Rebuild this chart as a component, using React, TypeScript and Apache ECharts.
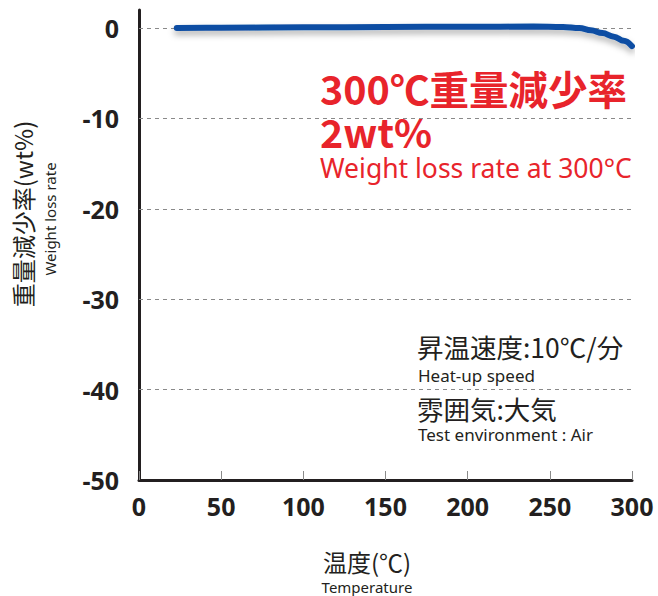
import { useEffect, useRef } from "react";
import * as echarts from "echarts";

const temps = [23, 50, 100, 150, 200, 240, 258, 268, 275, 282, 289, 295, 300];
const weightLoss = [0, 0.03, 0.08, 0.12, 0.15, 0.17, 0.12, 0, -0.25, -0.55, -0.95, -1.4, -2.0];
const yGridValues = [0, -10, -20, -30, -40];
const xMin = 0;
const xMax = 300;
const xInterval = 50;
const yMin = -50;
const yMax = 2;
const yInterval = 10;

const DARK = "#231f20";
const RED = "#e8242b";
const LATIN = "'Noto Sans', 'Open Sans', sans-serif";
const CJK = "'Noto Sans CJK JP', 'Noto Sans', sans-serif";

export default function App() {
  const ref = useRef<HTMLDivElement>(null);
  useEffect(() => {
    if (!ref.current) return;
    const chart = echarts.init(ref.current, null, { renderer: "svg" });
    const data = temps.map((t, i) => [t, weightLoss[i]]);
    chart.setOption({
      animation: false,
      backgroundColor: "#ffffff",
      grid: { left: 139, right: 26, top: 10, bottom: 116, containLabel: false },
      xAxis: {
        type: "value",
        min: xMin,
        max: xMax,
        interval: xInterval,
        axisLine: { show: true, onZero: false, lineStyle: { color: DARK, width: 3 } },
        axisTick: { show: true, inside: true, length: 9, lineStyle: { color: "#8a8a8a", width: 1 } },
        axisLabel: { color: DARK, fontSize: 25, fontWeight: "bold", fontFamily: LATIN, margin: 13 },
        splitLine: { show: false },
      },
      yAxis: {
        type: "value",
        min: yMin,
        max: yMax,
        interval: yInterval,
        axisLine: { show: true, onZero: false, lineStyle: { color: DARK, width: 3 } },
        axisTick: { show: false },
        axisLabel: {
          color: DARK,
          fontSize: 25,
          fontWeight: "bold",
          fontFamily: LATIN,
          margin: 20,
          formatter: (v: number) => (v % 10 === 0 ? String(v) : ""),
        },
        splitLine: { show: false },
      },
      series: [
        {
          type: "line",
          data,
          smooth: 0.4,
          smoothMonotone: "x",
          showSymbol: false,
          lineStyle: {
            color: "#0c4ea3",
            width: 6,
            cap: "round",
            shadowColor: "rgba(0,0,0,0.3)",
            shadowBlur: 6,
            shadowOffsetY: 4,
          },
          z: 5,
          markLine: {
            silent: true,
            symbol: "none",
            label: { show: false },
            lineStyle: { color: "#8a8a8a", type: [4, 4], width: 1.2 },
            data: yGridValues.map((v) => ({ yAxis: v })),
            z: 1,
          },
        },
      ],
      graphic: [
        {
          type: "text",
          x: 22,
          y: 214,
          rotation: Math.PI / 2,
          style: { text: "重量減少率(wt%)", fill: DARK, font: `24px ${CJK}`, align: "center", verticalAlign: "middle" },
        },
        {
          type: "text",
          x: 50,
          y: 219,
          rotation: Math.PI / 2,
          style: { text: "Weight loss rate", fill: DARK, font: `15px ${LATIN}`, align: "center", verticalAlign: "middle" },
        },
        {
          type: "text",
          x: 367,
          y: 561,
          style: { text: "温度(℃)", fill: DARK, font: `24px ${CJK}`, align: "center", verticalAlign: "middle" },
        },
        {
          type: "text",
          x: 367,
          y: 587,
          style: { text: "Temperature", fill: DARK, font: `15px ${LATIN}`, align: "center", verticalAlign: "middle" },
        },
        {
          type: "text",
          x: 320,
          y: 87,
          style: { text: "300℃重量減少率", fill: RED, font: `bold 39.5px ${CJK}`, lineHeight: 36, align: "left", verticalAlign: "middle" },
        },
        {
          type: "text",
          x: 320,
          y: 130,
          style: { text: "2wt%", fill: RED, font: `bold 39.5px ${CJK}`, lineHeight: 36, align: "left", verticalAlign: "middle" },
        },
        {
          type: "text",
          x: 320,
          y: 168,
          style: { text: "Weight loss rate at 300°C", fill: RED, font: `26.5px ${LATIN}`, lineHeight: 26, align: "left", verticalAlign: "middle" },
        },
        {
          type: "text",
          x: 417,
          y: 346,
          style: { text: "昇温速度:10℃/分", fill: DARK, font: `26.5px ${CJK}`, lineHeight: 24, align: "left", verticalAlign: "middle" },
        },
        {
          type: "text",
          x: 418,
          y: 375,
          style: { text: "Heat-up speed", fill: DARK, font: `17px ${LATIN}`, lineHeight: 18, align: "left", verticalAlign: "middle" },
        },
        {
          type: "text",
          x: 417,
          y: 408,
          style: { text: "雰囲気:大気", fill: DARK, font: `26.5px ${CJK}`, lineHeight: 24, align: "left", verticalAlign: "middle" },
        },
        {
          type: "text",
          x: 418,
          y: 434,
          style: { text: "Test environment : Air", fill: DARK, font: `17px ${LATIN}`, lineHeight: 18, align: "left", verticalAlign: "middle" },
        },
      ],
    });
    return () => chart.dispose();
  }, []);
  return (
    <div
      ref={ref}
      style={{ position: "absolute", left: 0, top: 0, width: 658, height: 596 }}
    />
  );
}
